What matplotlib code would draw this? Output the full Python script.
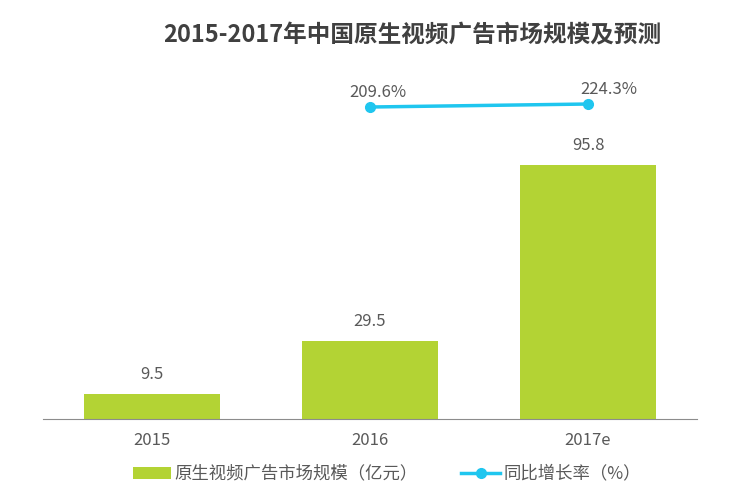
import numpy as np
import matplotlib
matplotlib.use("Agg")
import matplotlib.pyplot as plt

plt.rcParams['font.family'] = ['Noto Sans CJK SC', 'DejaVu Sans']

# --- dane ---
years = ['2015', '2016', '2017e']
market_size = [9.5, 29.5, 95.8]          # 亿元
growth_years = ['2016', '2017e']
growth_rate = [209.6, 224.3]              # %

bar_color = '#b3d334'
line_color = '#1fc6ef'
text_color = '#595959'

fig = plt.figure(figsize=(7.3, 4.96), dpi=100)
ax = fig.add_axes([0.0589, 0.1552, 0.8959, 0.7238])

x = np.arange(len(years))
ax.bar(x, market_size, width=0.62, color=bar_color,
       label='原生视频广告市场规模（亿元）', zorder=2)
for xi, v in zip(x, market_size):
    ax.annotate(f'{v:.1f}', (xi, v), xytext=(0, 8), textcoords='offset points',
                ha='center', va='bottom', fontsize=12, color=text_color)

ax.set_xlim(-0.5, 2.5)
ax.set_ylim(0, 135.5)
ax.set_xticks(x)
ax.set_xticklabels(years, fontsize=12, color=text_color)
ax.tick_params(axis='x', length=0, pad=9)
ax.set_yticks([])
for s in ['top', 'left', 'right']:
    ax.spines[s].set_visible(False)
ax.spines['bottom'].set_color('#8c8c8c')

ax2 = ax.twinx()
gx = [years.index(g) for g in growth_years]
ax2.plot(gx, growth_rate, color=line_color, linewidth=2.5, marker='o',
         markersize=7, label='同比增长率（%）', zorder=3)
label_dx = [6, 15]
for xi, v, dx in zip(gx, growth_rate, label_dx):
    ax2.annotate(f'{v:.1f}%', (xi, v), xytext=(dx, 4), textcoords='offset points',
                 ha='center', va='bottom', fontsize=12, color=text_color)
ax2.set_ylim(-1320, 440)
ax2.set_yticks([])
for s in ['top', 'left', 'right', 'bottom']:
    ax2.spines[s].set_visible(False)

fig.text(0.565, 0.928, '2015-2017年中国原生视频广告市场规模及预测',
         ha='center', va='center', fontsize=17, fontweight='bold',
         color='#404040')

h1, l1 = ax.get_legend_handles_labels()
h2, l2 = ax2.get_legend_handles_labels()
fig.legend(h1 + h2, l1 + l2, loc='center', bbox_to_anchor=(0.53, 0.045),
           ncol=2, frameon=False, fontsize=12.5, labelcolor=text_color,
           handlelength=2.2, handletextpad=0.2, columnspacing=2.5)

fig.savefig('out.png', dpi=100)
